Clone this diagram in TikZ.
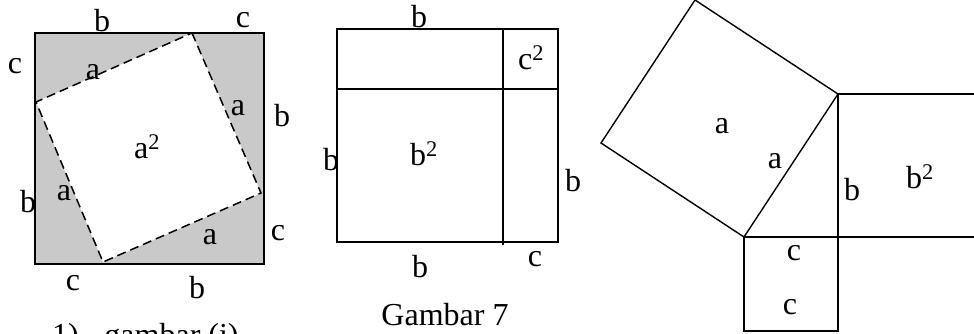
\documentclass[tikz,border=0pt]{standalone}
\usepackage{fontspec}
\setmainfont{Liberation Serif}
\begin{document}
\begin{tikzpicture}[x=1pt,y=-1pt,
  lbl/.style={inner sep=0pt,font=\fontsize{32}{36}\selectfont},
  edge/.style={line width=1.4pt},
  dashededge/.style={line width=1.5pt,dash pattern=on 9pt off 5pt}]
\useasboundingbox (0,0) rectangle (974,333);
\clip (0,0) rectangle (974,333);
% ---- Figure 1 ----
\coordinate (s1) at (35,33);
\coordinate (s2) at (264,33);
\coordinate (s3) at (264,264);
\coordinate (s4) at (35,264);
\coordinate (d1) at (192,33);
\coordinate (d2) at (261,193);
\coordinate (d3) at (103,262);
\coordinate (d4) at (36,102);
\fill[black!21] (s1) -- (s2) -- (s3) -- (s4) -- cycle;
\fill[white] (d1) -- (d2) -- (d3) -- (d4) -- cycle;
\draw[line width=1.8pt] (s1) -- (s2) -- (s3) -- (s4) -- cycle;
\draw[dashededge] (d1) -- (d2) -- (d3) -- (d4) -- cycle;
\node[lbl] (f1b1) at (102,21) {b};
\node[lbl] (f1c1) at (243,20) {c};
\node[lbl] (f1c2) at (15,66) {c};
\node[lbl] (f1a1) at (93,72) {a};
\node[lbl] (f1a2) at (238,108) {a};
\node[lbl] (f1b2) at (282,116) {b};
\node[lbl] (f1sq) at (147,147) {a$^{\mathrm{2}}$};
\node[lbl] (f1b3) at (28,202) {b};
\node[lbl] (f1a3) at (64,193) {a};
\node[lbl] (f1a4) at (210,237) {a};
\node[lbl] (f1c3) at (278,233) {c};
\node[lbl] (f1c4) at (73,283) {c};
\node[lbl] (f1b4) at (197,288) {b};
\node[lbl,anchor=base west] (cap1) at (52,345) {1)\hspace{0.8em}gambar (i)};
% ---- Figure 2 ----
\coordinate (r1) at (337,29);
\coordinate (r2) at (558,29);
\coordinate (r3) at (558,242);
\coordinate (r4) at (337,242);
\coordinate (v1) at (503,29);
\coordinate (v2) at (503,245);
\coordinate (h1) at (337,89);
\coordinate (h2) at (558,89);
\draw[edge] (r1) -- (r2) -- (r3) -- (r4) -- cycle;
\draw[edge] (v1) -- (v2);
\draw[edge] (h1) -- (h2);
\node[lbl] (f2b1) at (419,17) {b};
\node[lbl] (f2c2) at (531,58) {c$^{\mathrm{2}}$};
\node[lbl] (f2b2) at (331,160) {b};
\node[lbl] (f2sq) at (424,154) {b$^{\mathrm{2}}$};
\node[lbl] (f2b3) at (573,181) {b};
\node[lbl] (f2b4) at (420,267) {b};
\node[lbl] (f2c1) at (535,259) {c};
\node[lbl] (cap2) at (445,315) {Gambar 7};
% ---- Figure 3 ----
\coordinate (P) at (838,94);
\coordinate (Q) at (744,237);
\coordinate (R) at (838,237);
\coordinate (A1) at (695,0);
\coordinate (A2) at (601,143);
\coordinate (Bt) at (974,94);
\coordinate (Bb) at (974,237);
\coordinate (C1) at (744,331);
\coordinate (C2) at (838,331);
\draw[edge] (P) -- (A1) -- (A2) -- (Q) -- cycle;
\draw[edge] (P) -- (Bt);
\draw[edge] (Q) -- (Bb);
\draw[edge] (P) -- (R) -- (C2) -- (C1) -- (Q);
\node[lbl] (f3a1) at (722,126) {a};
\node[lbl] (f3a2) at (775,161) {a};
\node[lbl] (f3b1) at (852,190) {b};
\node[lbl] (f3sq) at (920,177) {b$^{\mathrm{2}}$};
\node[lbl] (f3c1) at (794,253) {c};
\node[lbl] (f3c2) at (790,307) {c};
\end{tikzpicture}
\end{document}
